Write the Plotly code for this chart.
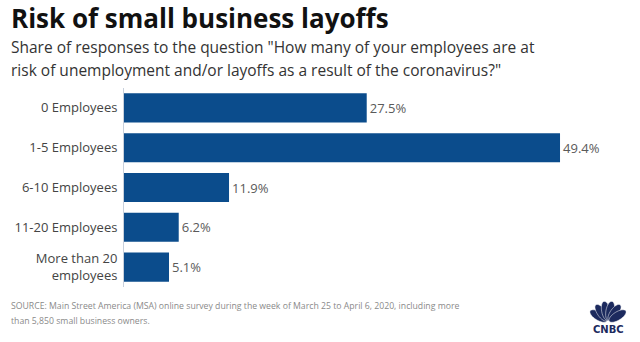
import math
import plotly.graph_objects as go

categories = ["0 Employees", "1-5 Employees", "6-10 Employees", "11-20 Employees", "More than 20<br>employees"]
values = [27.5, 49.4, 11.9, 6.2, 5.1]
labels = ["27.5%", "49.4%", "11.9%", "6.2%", "5.1%"]

title = "Risk of small business layoffs"
subtitle1 = "Share of responses to the question \"How many of your employees are at"
subtitle2 = "risk of unemployment and/or layoffs as a result of the coronavirus?\""
source1 = "SOURCE: Main Street America (MSA) online survey during the week of March 25 to April 6, 2020, including more"
source2 = "than 5,850 small business owners."

FONT = "Open Sans"
W, H = 640, 342
L, R, T, B = 124, 40, 88, 55
PW, PH = W - L - R, H - T - B


def px2paper(px, py):
    return (px - L) / PW, 1 - (py - T) / PH


def ann(text, px, py, size, color, family=FONT, xanchor="left"):
    x, y = px2paper(px, py)
    return dict(text=text, x=x, y=y, xref="paper", yref="paper",
                showarrow=False, xanchor=xanchor, yanchor="middle",
                font=dict(family=family, size=size, color=color))


# CNBC peacock logo (decorative) drawn as feather shapes
logo_shapes = []
cx, cy = 608, 322
for ang in [-58, -35, -11, 11, 35, 58]:
    a = math.radians(ang)
    ux, uy = math.sin(a), -math.cos(a)      # along feather
    vx, vy = math.cos(a), math.sin(a)       # across feather
    r0, r1, half_w = 1.5, 21.0, 4.2
    pts = []
    n = 16
    for i in range(n + 1):
        tt = math.pi * i / n
        along = (r0 + r1) / 2 - (r1 - r0) / 2 * math.cos(tt)
        across = half_w * math.sin(tt)
        pts.append((cx + ux * along + vx * across, cy + uy * along + vy * across))
    for i in range(1, n):
        tt = math.pi * (n - i) / n
        along = (r0 + r1) / 2 - (r1 - r0) / 2 * math.cos(tt)
        across = -half_w * math.sin(tt)
        pts.append((cx + ux * along + vx * across, cy + uy * along + vy * across))
    path = "M " + " L ".join("%.5f,%.5f" % px2paper(x, y) for x, y in pts) + " Z"
    logo_shapes.append(dict(type="path", xref="paper", yref="paper", path=path,
                            fillcolor="#1c2a5e", line=dict(width=0.5, color="white")))

fig = go.Figure()
fig.add_trace(go.Bar(
    x=values, y=categories, orientation="h",
    marker=dict(color="#0B4C8C", line=dict(width=0)),
    text=labels, textposition="outside", cliponaxis=False,
    textfont=dict(family=FONT, size=13, color="#5a5a5a"),
))

fig.update_layout(
    width=W, height=H,
    margin=dict(l=L, r=R, t=T, b=B),
    paper_bgcolor="white", plot_bgcolor="white",
    showlegend=False, bargap=0.27,
    font=dict(family=FONT),
    xaxis=dict(range=[0, 53.93], visible=False, fixedrange=True),
    yaxis=dict(autorange="reversed", showline=True, linecolor="#c8d0dc", linewidth=1,
               tickfont=dict(family=FONT, size=13, color="#444444"),
               ticks="outside", ticklen=3, tickcolor="rgba(0,0,0,0)", showgrid=False,
               fixedrange=True),
    shapes=logo_shapes,
    annotations=[
        ann("<b>" + title + "</b>", 9, 18, 26, "#111111"),
        ann(subtitle1, 9, 47, 15.5, "#333333"),
        ann(subtitle2, 9, 70, 15.5, "#333333"),
        ann(source1, 9, 306, 8.7, "#8a8a8a"),
        ann(source2, 9, 321, 8.7, "#8a8a8a"),
        ann("<b>CNBC</b>", 608, 329, 10, "#1c2a5e", family="DejaVu Sans", xanchor="center"),
    ],
)

fig.write_html("out.html")
